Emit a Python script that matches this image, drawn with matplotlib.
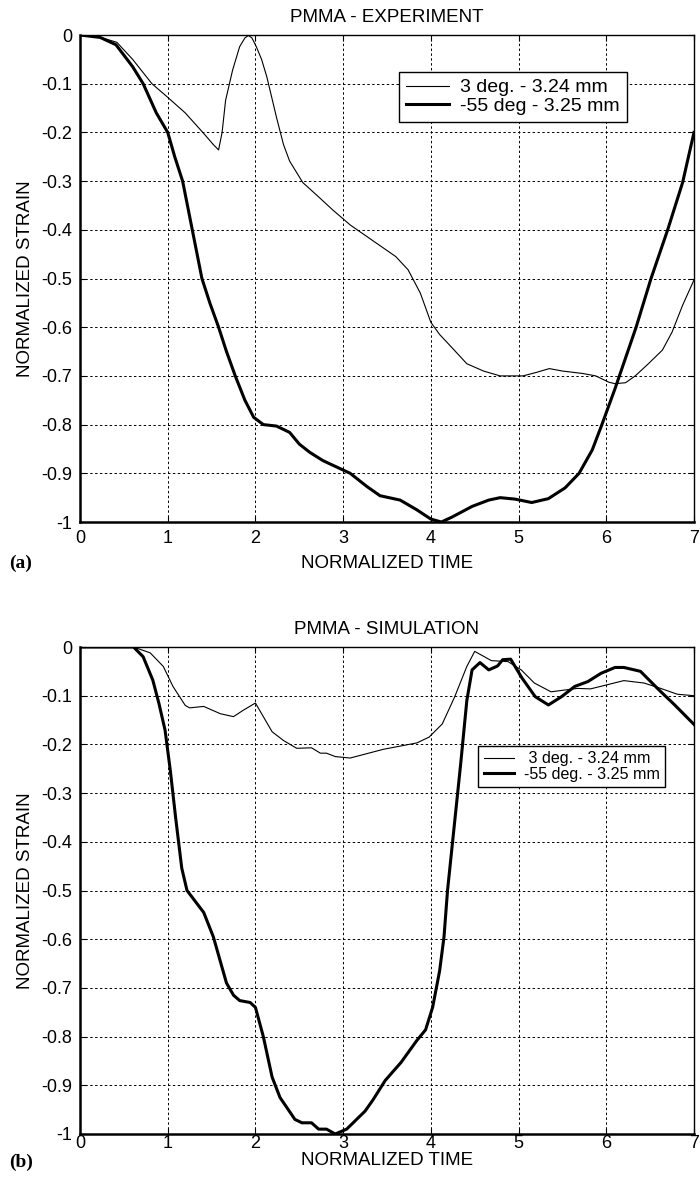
import numpy as np
import matplotlib
matplotlib.use("Agg")
import matplotlib.pyplot as plt

plt.rcParams['font.family'] = ['Liberation Sans', 'DejaVu Sans']

# (a) experiment, 3 deg - 3.24 mm (thin)
exp_thin_t = [0, 0.2, 0.42, 0.6, 0.82, 1.0, 1.2, 1.4, 1.52, 1.58, 1.62, 1.66, 1.74,
              1.82, 1.88, 1.92, 1.96, 2.01, 2.07, 2.13, 2.24, 2.32, 2.39, 2.54, 2.73,
              2.88, 3.08, 3.4, 3.6, 3.74, 3.88, 4.0, 4.1, 4.22, 4.41, 4.6, 4.79, 5.05,
              5.2, 5.35, 5.5, 5.73, 5.88, 6.03, 6.1, 6.22, 6.33, 6.48, 6.64, 6.75,
              6.87, 7.0]
exp_thin_s = [0, -0.003, -0.015, -0.05, -0.1, -0.128, -0.16, -0.2, -0.225, -0.236,
              -0.2, -0.134, -0.072, -0.024, -0.006, -0.001, -0.006, -0.024, -0.05,
              -0.086, -0.169, -0.225, -0.259, -0.303, -0.334, -0.359, -0.39, -0.43,
              -0.455, -0.482, -0.53, -0.59, -0.615, -0.638, -0.675, -0.69, -0.70,
              -0.70, -0.693, -0.685, -0.69, -0.695, -0.70, -0.713, -0.716, -0.714,
              -0.70, -0.675, -0.647, -0.61, -0.555, -0.503]

# (a) experiment, -55 deg - 3.25 mm (thick)
exp_thick_t = [0, 0.23, 0.41, 0.6, 0.72, 0.87, 1.0, 1.08, 1.17, 1.225, 1.28, 1.335,
               1.39, 1.48, 1.58, 1.67, 1.77, 1.88, 1.98, 2.09, 2.24, 2.39, 2.5, 2.62,
               2.77, 3.08, 3.27, 3.42, 3.65, 3.84, 4.0, 4.12, 4.24, 4.47, 4.66, 4.79,
               4.96, 5.15, 5.34, 5.53, 5.69, 5.84, 5.95, 6.1, 6.34, 6.51, 6.7, 6.87, 7.0]
exp_thick_s = [0, -0.005, -0.02, -0.065, -0.1, -0.16, -0.2, -0.25, -0.3, -0.35, -0.4,
               -0.45, -0.5, -0.55, -0.6, -0.65, -0.7, -0.75, -0.785, -0.8, -0.803,
               -0.816, -0.84, -0.857, -0.874, -0.9, -0.927, -0.946, -0.955, -0.975,
               -0.994, -1.0, -0.99, -0.968, -0.955, -0.95, -0.953, -0.96, -0.952,
               -0.93, -0.9, -0.852, -0.8, -0.726, -0.6, -0.5, -0.4, -0.303, -0.2]

# (b) simulation, 3 deg - 3.24 mm (thin)
sim_thin_t = [0, 0.61, 0.8, 0.95, 1.06, 1.2, 1.25, 1.41, 1.6, 1.75, 1.86, 2.0, 2.09,
              2.19, 2.32, 2.47, 2.64, 2.74, 2.81, 2.91, 3.08, 3.46, 3.84, 3.98, 4.13,
              4.27, 4.41, 4.5, 4.69, 4.88, 5.03, 5.18, 5.37, 5.67, 5.82, 6.0, 6.2,
              6.43, 6.62, 6.81, 7.0]
sim_thin_s = [0, 0, -0.012, -0.04, -0.081, -0.12, -0.125, -0.122, -0.137, -0.143,
              -0.13, -0.115, -0.143, -0.174, -0.192, -0.208, -0.207, -0.218, -0.218,
              -0.225, -0.228, -0.21, -0.197, -0.185, -0.158, -0.103, -0.04, -0.009,
              -0.028, -0.03, -0.047, -0.074, -0.092, -0.085, -0.086, -0.078, -0.069,
              -0.074, -0.085, -0.097, -0.1]

# (b) simulation, -55 deg - 3.25 mm (thick)
sim_thick_t = [0, 0.61, 0.72, 0.83, 0.9, 0.97, 1.03, 1.09, 1.16, 1.22, 1.41, 1.52,
               1.67, 1.75, 1.82, 1.94, 2.0, 2.09, 2.19, 2.28, 2.45, 2.53, 2.64, 2.72,
               2.81, 2.91, 3.04, 3.25, 3.34, 3.48, 3.66, 3.84, 3.94, 4.02, 4.1, 4.15,
               4.19, 4.34, 4.41, 4.47, 4.56, 4.66, 4.76, 4.82, 4.91, 5.04, 5.19,
               5.34, 5.49, 5.64, 5.79, 5.94, 6.1, 6.2, 6.32, 6.39, 6.6, 6.78, 7.0]
sim_thick_s = [0, 0, -0.02, -0.068, -0.116, -0.171, -0.254, -0.35, -0.454, -0.5,
               -0.545, -0.595, -0.69, -0.715, -0.726, -0.73, -0.74, -0.8, -0.883,
               -0.925, -0.97, -0.977, -0.977, -0.99, -0.99, -1.0, -0.99, -0.953,
               -0.93, -0.89, -0.853, -0.808, -0.786, -0.74, -0.665, -0.595, -0.5,
               -0.24, -0.11, -0.047, -0.032, -0.047, -0.039, -0.026, -0.025,
               -0.064, -0.102, -0.119, -0.102, -0.081, -0.071, -0.054, -0.042,
               -0.042, -0.047, -0.05, -0.088, -0.119, -0.159]

x_ticks = [0, 1, 2, 3, 4, 5, 6, 7]
y_ticks = [0, -0.1, -0.2, -0.3, -0.4, -0.5, -0.6, -0.7, -0.8, -0.9, -1]
y_labels = ['0', '-0.1', '-0.2', '-0.3', '-0.4', '-0.5', '-0.6', '-0.7', '-0.8', '-0.9', '-1']

fig = plt.figure(figsize=(7, 11.78), dpi=100)
ax1 = fig.add_axes([80/700, 1 - 522/1178, 614/700, 487/1178])
ax2 = fig.add_axes([80/700, 1 - 1134/1178, 614/700, 487/1178])


def style(ax, title, xpad, labelpad):
    ax.set_xlim(0, 7)
    ax.set_ylim(-1, 0)
    ax.set_xticks(x_ticks)
    ax.set_yticks(y_ticks)
    ax.set_yticklabels(y_labels)
    ax.grid(True, color='black', linestyle=(0, (2.5, 2.5)), linewidth=0.7)
    ax.tick_params(direction='in', length=4, top=True, right=True, labelsize=13)
    ax.tick_params(axis='x', pad=xpad)
    ax.tick_params(axis='y', pad=5.5)
    for side in ['left', 'bottom']:
        ax.spines[side].set_linewidth(1.8)
    for side in ['top', 'right']:
        ax.spines[side].set_linewidth(1.0)
    ax.set_title(title, fontsize=13.5, pad=9.5)
    ax.set_ylabel("NORMALIZED STRAIN", fontsize=13.5)
    ax.yaxis.set_label_coords(-0.075, 0.5)
    ax.set_xlabel("NORMALIZED TIME", fontsize=13.5, labelpad=labelpad)


ax1.plot(exp_thin_t, exp_thin_s, color='black', linewidth=0.8, label="3 deg. - 3.24 mm")
ax1.plot(exp_thick_t, exp_thick_s, color='black', linewidth=2.2, label="-55 deg - 3.25 mm")
style(ax1, "PMMA - EXPERIMENT", 5.4, 6)
leg1 = ax1.legend(loc='upper left', bbox_to_anchor=(0.5195, 0.924), borderaxespad=0,
                  fontsize=14, fancybox=False, framealpha=1, edgecolor='black',
                  handlelength=2.2, handletextpad=0.6, borderpad=0.35,
                  labelspacing=0.05)
leg1.get_frame().set_linewidth(1.0)

ax2.plot(sim_thin_t, sim_thin_s, color='black', linewidth=0.8, label=" 3 deg. - 3.24 mm")
ax2.plot(sim_thick_t, sim_thick_s, color='black', linewidth=2.2, label="-55 deg. - 3.25 mm")
style(ax2, "PMMA - SIMULATION", 0.5, 0.5)
leg2 = ax2.legend(loc='upper left', bbox_to_anchor=(0.648, 0.797), borderaxespad=0,
                  fontsize=11.6, fancybox=False, framealpha=1, edgecolor='black',
                  handlelength=1.9, handletextpad=0.6, borderpad=0.35,
                  labelspacing=0.02)
leg2.get_frame().set_linewidth(1.0)

fig.text(9/700, 1 - 563/1178, "(a)", fontsize=14, fontweight='bold',
         family='Liberation Serif', va='center')
fig.text(9/700, 1 - 1162/1178, "(b)", fontsize=14, fontweight='bold',
         family='Liberation Serif', va='center')

fig.savefig("out.png", dpi=100)
